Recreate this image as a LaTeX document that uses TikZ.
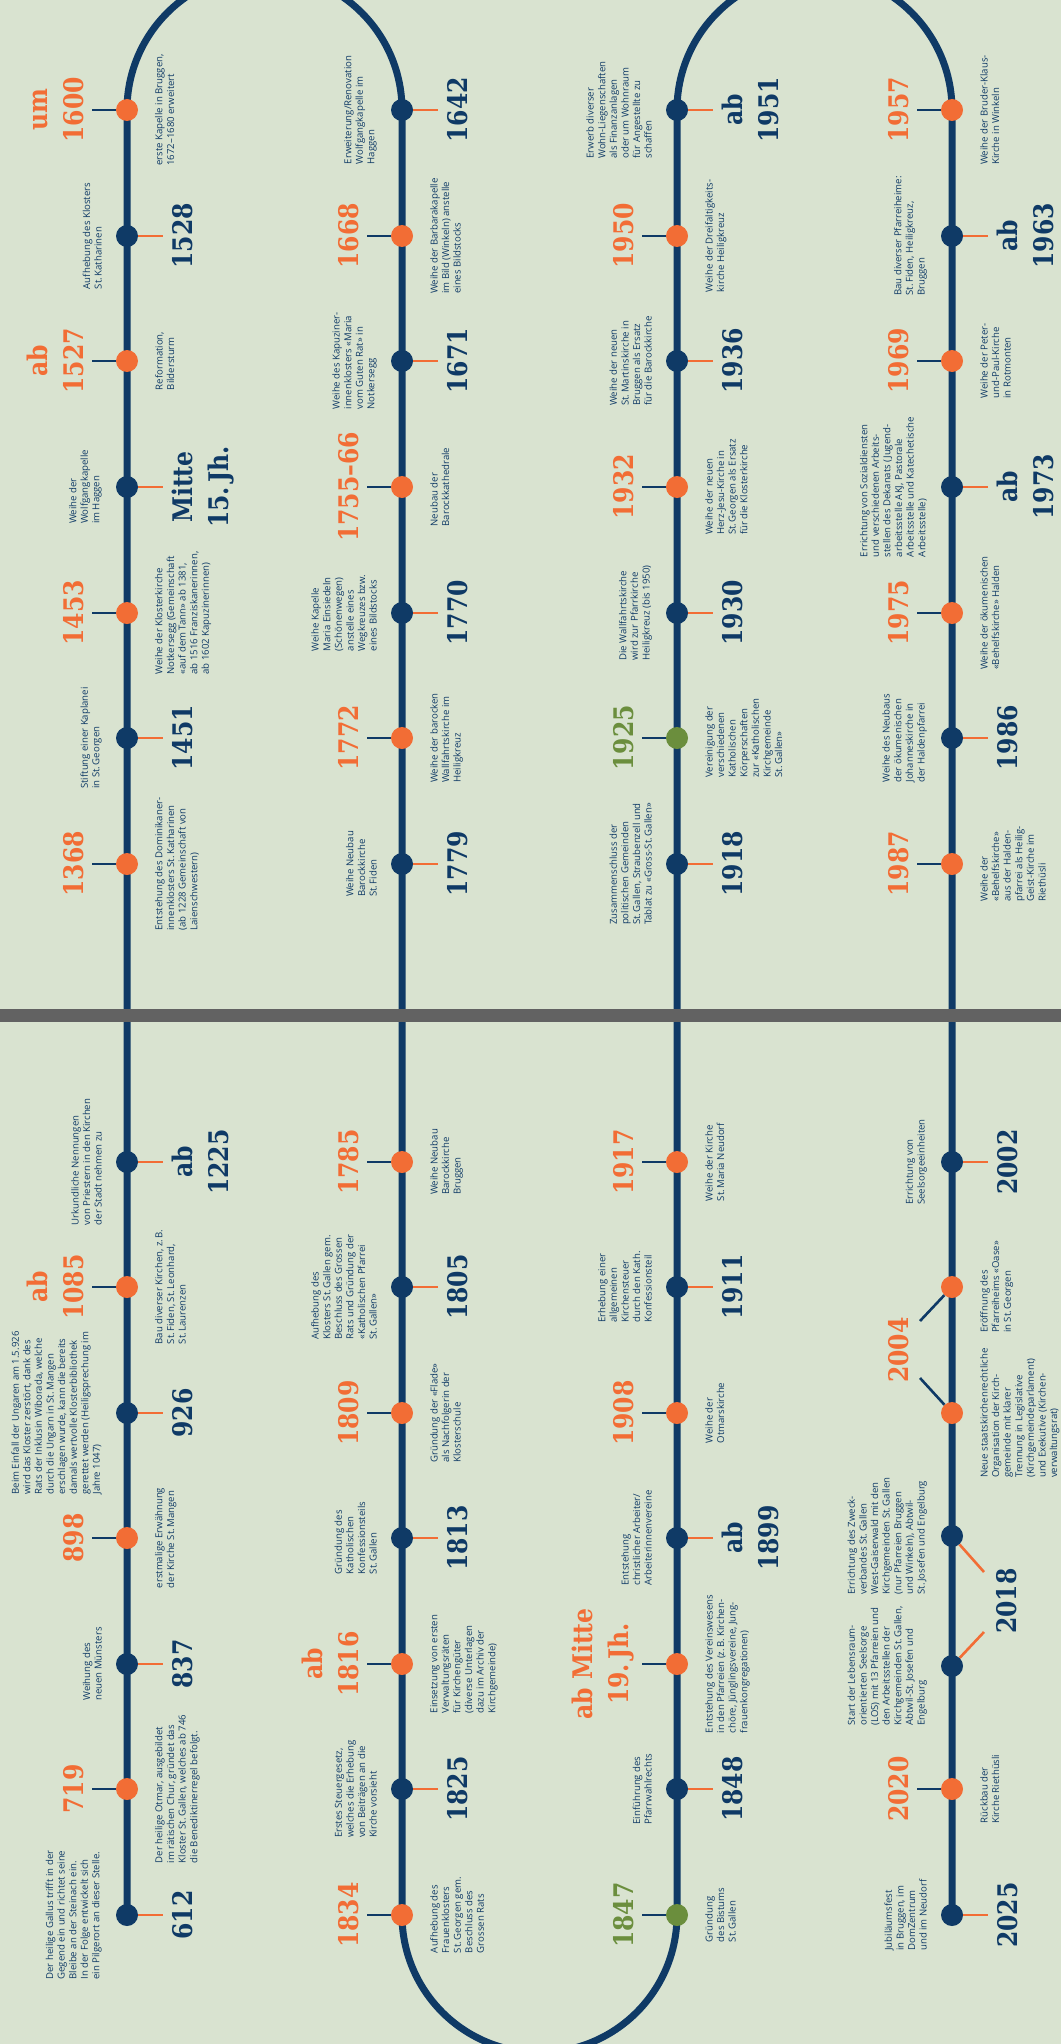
\documentclass[tikz,border=0pt]{standalone}
\usepackage{fontspec}
\newfontfamily\yearfont{DejaVu Serif}[FakeStretch=0.87]
\newfontfamily\descfont{Open Sans}
\definecolor{tlnavy}{HTML}{0F3A66}
\definecolor{tlorange}{HTML}{F26D35}
\definecolor{tlgreen}{HTML}{6B8E3D}
\definecolor{tlbg}{HTML}{D9E3D0}
\definecolor{tlgrey}{HTML}{626262}
\pgfdeclarelayer{back}
\pgfdeclarelayer{line}
\pgfsetlayers{back,line,main}
\tikzset{
  tl/.style={draw=tlnavy, line width=7pt},
  dot/.style={circle, inner sep=0pt, minimum size=22pt, draw=none},
  tick/.style={line width=2.6pt},
  yearlab/.style={rotate=90, inner sep=0pt, align=center, font=\yearfont\bfseries\fontsize{27}{36}\selectfont},
  desclab/.style={rotate=90, inner sep=0pt, align=left, text=tlnavy, font=\descfont\fontsize{9.6}{11.6}\selectfont},
}
% orange dot: year left, description right
\newcommand\evA[5]{%
  \node[dot,fill=tlorange] (#1) at (#2,#3) {};
  \coordinate (#1t) at ([xshift=-35pt]#1.center);
  \draw[tick,draw=tlnavy] (#1t) -- (#1);
  \node[yearlab,text=tlorange,anchor=south] (#1y) at ([xshift=-43pt]#1.center) {#4};
  \node[desclab,anchor=north] (#1d) at ([xshift=28pt]#1.center) {#5};
}
% green dot
\newcommand\evG[5]{%
  \node[dot,fill=tlgreen] (#1) at (#2,#3) {};
  \coordinate (#1t) at ([xshift=-35pt]#1.center);
  \draw[tick,draw=tlnavy] (#1t) -- (#1);
  \node[yearlab,text=tlgreen,anchor=south] (#1y) at ([xshift=-43pt]#1.center) {#4};
  \node[desclab,anchor=north] (#1d) at ([xshift=28pt]#1.center) {#5};
}
% navy dot: year right, description left
\newcommand\evB[5]{%
  \node[dot,fill=tlnavy] (#1) at (#2,#3) {};
  \coordinate (#1t) at ([xshift=36pt]#1.center);
  \draw[tick,draw=tlorange] (#1) -- (#1t);
  \node[yearlab,text=tlnavy,anchor=north] (#1y) at ([xshift=45pt]#1.center) {#4};
  \node[desclab,anchor=south] (#1d) at ([xshift=-25pt]#1.center) {#5};
}
% dots with shared year label
\newcommand\evAx[4]{%
  \node[dot,fill=tlorange] (#1) at (#2,#3) {};
  \node[desclab,anchor=north] (#1d) at ([xshift=28pt]#1.center) {#4};
}
\newcommand\evBx[4]{%
  \node[dot,fill=tlnavy] (#1) at (#2,#3) {};
  \node[desclab,anchor=south] (#1d) at ([xshift=-25pt]#1.center) {#4};
}
\begin{document}
\begin{tikzpicture}[x=1pt,y=-1pt]
\useasboundingbox (0,0) rectangle (1061,2044);
\begin{pgfonlayer}{back}
\fill[tlbg] (0,0) rectangle (1061,2044);
\end{pgfonlayer}

% ---------- top half, column 1
\evA{e1600}{127}{110}{um\\1600}{erste Kapelle in Bruggen,\\1672–1680 erweitert}
\evB{e1528}{127}{236}{1528}{Aufhebung des Klosters\\St.\,Katharinen}
\evA{e1527}{127}{361}{ab\\1527}{Reformation,\\Bildersturm}
\evB{e15jh}{127}{487}{Mitte\\15.\,Jh.}{Weihe der\\Wolfgangkapelle\\im Haggen}
\evA{e1453}{127}{613}{1453}{Weihe der Klosterkirche\\Notkersegg (Gemeinschaft\\«auf dem Tann» ab 1381,\\ab 1516 Franziskanerinnen,\\ab 1602 Kapuzinerinnen)}
\evB{e1451}{127}{738}{1451}{Stiftung einer Kaplanei\\in St.\,Georgen}
\evA{e1368}{127}{864}{1368}{Entstehung des Dominikaner-\\innenklosters St.\,Katharinen\\(ab 1228 Gemeinschaft von\\Laienschwestern)}

% ---------- top half, column 2
\evB{e1642}{402}{110}{1642}{Erweiterung/Renovation\\Wolfgangkapelle im\\Haggen}
\evA{e1668}{402}{236}{1668}{Weihe der Barbarakapelle\\im Bild (Winkeln) anstelle\\eines Bildstocks}
\evB{e1671}{402}{361}{1671}{Weihe des Kapuziner-\\innenklosters «Maria\\vom Guten Rat» in\\Notkersegg}
\evA{e1755}{402}{487}{1755–66}{Neubau der\\Barockkathedrale}
\evB{e1770}{402}{613}{1770}{Weihe Kapelle\\Maria Einsiedeln\\(Schönenwegen)\\anstelle eines\\Wegkreuzes bzw.\\eines Bildstocks}
\evA{e1772}{402}{738}{1772}{Weihe der barocken\\Wallfahrtskirche im\\Heiligkreuz}
\evB{e1779}{402}{864}{1779}{Weihe Neubau\\Barockkirche\\St.\,Fiden}

% ---------- top half, column 3
\evB{e1951}{677}{110}{ab\\1951}{Erwerb diverser\\Wohn-Liegenschaften\\als Finanzanlagen\\oder um Wohnraum\\für Angestellte zu\\schaffen}
\evA{e1950}{677}{236}{1950}{Weihe der Dreifaltigkeits-\\kirche Heiligkreuz}
\evB{e1936}{677}{361}{1936}{Weihe der neuen\\St.\,Martinskirche in\\Bruggen als Ersatz\\für die Barockkirche}
\evA{e1932}{677}{487}{1932}{Weihe der neuen\\Herz-Jesu-Kirche in\\St.\,Georgen als Ersatz\\für die Klosterkirche}
\evB{e1930}{677}{613}{1930}{Die Wallfahrtskirche\\wird zur Pfarrkirche\\Heiligkreuz (bis 1950)}
\evG{e1925}{677}{738}{1925}{Vereinigung der\\verschiedenen\\Katholischen\\Körperschaften\\zur «Katholischen\\Kirchgemeinde\\St.\,Gallen»}
\evB{e1918}{677}{864}{1918}{Zusammenschluss der\\politischen Gemeinden\\St.\,Gallen, Straubenzell und\\Tablat zu «Gross-St.\,Gallen»}

% ---------- top half, column 4
\evA{e1957}{952}{110}{1957}{Weihe der Bruder-Klaus-\\Kirche in Winkeln}
\evB{e1963}{952}{236}{ab\\1963}{Bau diverser Pfarreiheime:\\St.\,Fiden, Heiligkreuz,\\Bruggen}
\evA{e1969}{952}{361}{1969}{Weihe der Peter-\\und-Paul-Kirche\\in Rotmonten}
\evB{e1973}{952}{487}{ab\\1973}{Errichtung von Sozialdiensten\\und verschiedenen Arbeits-\\stellen des Dekanats (Jugend-\\arbeitsstelle AKJ, Pastorale\\Arbeitsstelle und Katechetische\\Arbeitsstelle)}
\evA{e1975}{952}{613}{1975}{Weihe der ökumenischen\\«Behelfskirche» Halden}
\evB{e1986}{952}{738}{1986}{Weihe des Neubaus\\der ökumenischen\\Johanneskirche in\\der Haldenpfarrei}
\evA{e1987}{952}{864}{1987}{Weihe der\\«Behelfskirche»\\aus der Halden-\\pfarrei als Heilig-\\Geist-Kirche im\\Riethüsli}

% ---------- bottom half, column 1
\evB{e1225}{127}{1162}{ab\\1225}{Urkundliche Nennungen\\von Priestern in den Kirchen\\der Stadt nehmen zu}
\evA{e1085}{127}{1287}{ab\\1085}{Bau diverser Kirchen, z.\,B.\\St.\,Fiden, St.\,Leonhard,\\St.\,Laurenzen}
\evB{e926}{127}{1413}{926}{Beim Einfall der Ungaren am 1.5.926\\wird das Kloster zerstört, dank des\\Rats der Inklusin Wiborada, welche\\durch die Ungarn in St.\,Mangen\\erschlagen wurde, kann die bereits\\damals wertvolle Klosterbibliothek\\gerettet werden (Heiligsprechung im\\Jahre 1047)}
\evA{e898}{127}{1538}{898}{erstmalige Erwähnung\\der Kirche St.\,Mangen}
\evB{e837}{127}{1664}{837}{Weihung des\\neuen Münsters}
\evA{e719}{127}{1789}{719}{Der heilige Otmar, ausgebildet\\im rätischen Chur, gründet das\\Kloster St.\,Gallen, welches ab 746\\die Benediktinerregel befolgt.}
\evB{e612}{127}{1915}{612}{Der heilige Gallus trifft in der\\Gegend ein und richtet seine\\Bleibe an der Steinach ein.\\In der Folge entwickelt sich\\ein Pilgerort an dieser Stelle.}

% ---------- bottom half, column 2
\evA{e1785}{402}{1162}{1785}{Weihe Neubau\\Barockkirche\\Bruggen}
\evB{e1805}{402}{1287}{1805}{Aufhebung des\\Klosters St.\,Gallen gem.\\Beschluss des Grossen\\Rats und Gründung der\\«Katholischen Pfarrei\\St.\,Gallen»}
\evA{e1809}{402}{1413}{1809}{Gründung der «Flade»\\als Nachfolgerin der\\Klosterschule}
\evB{e1813}{402}{1538}{1813}{Gründung des\\Katholischen\\Konfessionsteils\\St.\,Gallen}
\evA{e1816}{402}{1664}{ab\\1816}{Einsetzung von ersten\\Verwaltungsräten\\für Kirchengüter\\(diverse Unterlagen\\dazu im Archiv der\\Kirchgemeinde)}
\evB{e1825}{402}{1789}{1825}{Erstes Steuergesetz,\\welches die Erhebung\\von Beiträgen an die\\Kirche vorsieht}
\evA{e1834}{402}{1915}{1834}{Aufhebung des\\Frauenklosters\\St.\,Georgen gem.\\Beschluss des\\Grossen Rats}

% ---------- bottom half, column 3
\evA{e1917}{677}{1162}{1917}{Weihe der Kirche\\St.\,Maria Neudorf}
\evB{e1911}{677}{1287}{1911}{Erhebung einer\\allgemeinen\\Kirchensteuer\\durch den Kath.\\Konfessionsteil}
\evA{e1908}{677}{1413}{1908}{Weihe der\\Otmarskirche}
\evB{e1899}{677}{1538}{ab\\1899}{Entstehung\\christlicher Arbeiter/\\Arbeiterinnenvereine}
\evA{e19jh}{677}{1664}{ab Mitte\\19.\,Jh.}{Entstehung des Vereinswesens\\in den Pfarreien (z.\,B. Kirchen-\\chöre, Jünglingsvereine, Jung-\\frauenkongregationen)}
\evB{e1848}{677}{1789}{1848}{Einführung des\\Pfarrwahlrechts}
\evG{e1847}{677}{1915}{1847}{Gründung\\des Bistums\\St.\,Gallen}

% ---------- bottom half, column 4
\evB{e2002}{952}{1162}{2002}{Errichtung von\\Seelsorgeeinheiten}
\evAx{e2004a}{952}{1287}{Eröffnung des\\Pfarreiheims «Oase»\\in St.\,Georgen}
\evAx{e2004b}{952}{1413}{Neue staatskirchenrechtliche\\Organisation der Kirch-\\gemeinde mit klarer\\Trennung in Legislative\\(Kirchgemeindeparlament)\\und Exekutive (Kirchen-\\verwaltungsrat)}
\evBx{e2018a}{952}{1536}{Errichtung des Zweck-\\verbandes St.\,Gallen\\West-Gaiserwald mit den\\Kirchgemeinden St.\,Gallen\\(nur Pfarreien Bruggen\\und Winkeln), Abtwil-\\St.\,Josefen und Engelburg}
\evBx{e2018b}{952}{1666}{Start der Lebensraum-\\orientierten Seelsorge\\(LOS) mit 13 Pfarreien und\\den Arbeitsstellen der\\Kirchgemeinden St.\,Gallen,\\Abtwil-St.\,Josefen und\\Engelburg}
\evA{e2020}{952}{1789}{2020}{Rückbau der\\Kirche Riethüsli}
\evB{e2025}{952}{1915}{2025}{Jubiläumsfest\\in Bruggen, im\\DomZentrum\\und im Neudorf}

% shared year labels
\node[yearlab,text=tlorange,anchor=south] (y2004) at (909,1350) {2004};
\coordinate (t2004a) at (920,1321);
\coordinate (t2004b) at (920,1378);
\draw[tick,draw=tlnavy] (t2004a) -- (e2004a);
\draw[tick,draw=tlnavy] (t2004b) -- (e2004b);
\node[yearlab,text=tlnavy,anchor=north] (y2018) at (996,1601) {2018};
\coordinate (t2018a) at (984,1572);
\coordinate (t2018b) at (984,1632);
\draw[tick,draw=tlorange] (e2018a) -- (t2018a);
\draw[tick,draw=tlorange] (e2018b) -- (t2018b);

% the snake line
\begin{pgfonlayer}{line}
\draw[tl] (e612.center) -- (e1600.center)
  arc[start angle=180, end angle=360, radius=137.5] -- (e1834.center)
  arc[start angle=180, end angle=0, radius=137.5] -- (e1951.center)
  arc[start angle=180, end angle=360, radius=137.5] -- (e2025.center);
\end{pgfonlayer}

% page divider
\fill[tlgrey] (0,1009) rectangle (1061,1022);
\end{tikzpicture}
\end{document}
